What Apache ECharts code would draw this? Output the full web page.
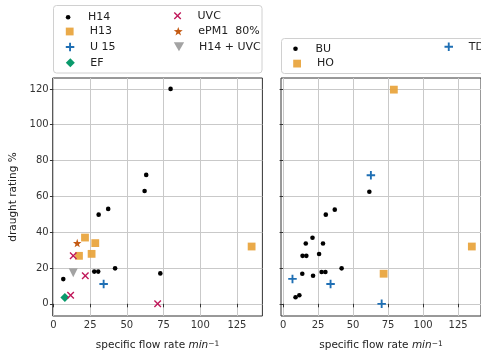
<!DOCTYPE html>
<html>
<head>
<meta charset="utf-8">
<script src="https://cdn.jsdelivr.net/npm/echarts@6/dist/echarts.min.js"></script>
<style>
  html, body { margin: 0; padding: 0; background: #fff; }
  #chart { width: 481px; height: 356px; }
</style>
</head>
<body>
<div id="chart"></div>
<script>
// left panel: filter classes
const h14 = [[6.7, 13.8], [27.8, 18], [30.5, 18], [42, 19.8], [72.8, 17], [79.8, 120], [63.2, 72], [62.1, 63], [37.3, 53], [30.8, 49.8]];
const h13 = [[21.5, 37], [28.5, 33.9], [17.4, 26.8], [26, 27.9], [135, 32]];
const u15 = [[34.2, 11.1]];
const ef = [[7.8, 3.5]];
const uvc = [[13.5, 26.8], [21.7, 15.7], [11.7, 4.8], [71, 0]];
const epm1 = [[16.2, 33.9]];
const h14uvc = [[13.5, 17.4]];

// right panel: installation type
const bu = [[21, 36.9], [16.2, 33.7], [28.5, 33.7], [13.9, 26.8], [16.6, 26.8], [25.7, 27.8], [13.7, 16.8], [21.4, 15.7],
  [27.5, 17.8], [30.2, 17.8], [41.8, 19.8], [8.9, 3.7], [11.6, 4.8], [61.6, 62.6], [36.9, 52.6], [30.5, 49.8]];
const td = [[6.7, 13.9], [33.9, 11.1], [70.4, 0], [62.7, 71.8]];
const ho = [[71.8, 16.8], [79.1, 119.6], [134.8, 32]];

const xTicks = [0, 25, 50, 75, 100, 125];
const yTicks = [0, 20, 40, 60, 80, 100, 120];

const font = 'DejaVu Sans';

const SQUARE = 'path://M0,0H10V10H0Z';
const PLUS = 'path://M3.9,0H6.1V3.9H10V6.1H6.1V10H3.9V6.1H0V3.9H3.9Z';
const DIAMOND = 'path://M5,0L10,5L5,10L0,5Z';
const CROSS = 'path://M0,1.3L1.3,0L5,3.7L8.7,0L10,1.3L6.3,5L10,8.7L8.7,10L5,6.3L1.3,10L0,8.7L3.7,5Z';
const STAR = 'path://M5,0L6.18,3.38L9.76,3.46L6.9,5.62L7.94,9.05L5,7L2.06,9.05L3.1,5.62L0.24,3.46L3.82,3.38Z';
const TRI_DOWN = 'path://M0,0L10,0L5,8.7Z';

// marker style per series name
const markers = {
  'H14': { symbol: 'circle', size: 4.6, color: '#000000' },
  'H13': { symbol: SQUARE, size: 7.8, color: '#e8a33a' },
  'U 15': { symbol: PLUS, size: 8.5, color: '#1f6fb4' },
  'EF': { symbol: DIAMOND, size: 9, color: '#0a9a6c' },
  'UVC': { symbol: CROSS, size: 7.5, color: '#c0185a' },
  'ePM1  80%': { symbol: STAR, size: 8.5, color: '#c45a12' },
  'H14 + UVC': { symbol: TRI_DOWN, size: 9, color: '#a3a3a3' },
  'BU': { symbol: 'circle', size: 4.6, color: '#000000' },
  'TD': { symbol: PLUS, size: 8.5, color: '#1f6fb4' },
  'HO': { symbol: SQUARE, size: 7.8, color: '#e8a33a' }
};

const makeSeries = (name, data, panel) => ({
  name: name,
  type: 'scatter',
  xAxisIndex: panel,
  yAxisIndex: panel,
  data: data,
  symbol: markers[name].symbol,
  symbolSize: markers[name].size,
  itemStyle: { color: markers[name].color, opacity: name === 'H13' || name === 'HO' ? 0.92 : 1 },
  emphasis: { disabled: true }
});

// one legend per entry so each icon keeps its own size
// (the legend box lands ~12.5px left of the given left, so push it back)
const makeLegend = (name, cx, cy) => ({
  data: [name],
  left: cx - 15 + 12.5,
  top: cy - markers[name].size / 2 - 1,
  itemWidth: 30,
  itemHeight: markers[name].size,
  padding: 0,
  selectedMode: false,
  symbolKeepAspect: true,
  textStyle: { fontFamily: font, fontSize: 11, color: '#222' }
});

const legends = [];
[['H14', 'H13', 'U 15', 'EF'], ['UVC', 'ePM1  80%', 'H14 + UVC']].forEach((col, c) => {
  col.forEach((name, r) => legends.push(makeLegend(name, c === 0 ? 68.3 : 176.3, 15 + 15.9 * r)));
});
[['BU', 'HO'], ['TD']].forEach((col, c) => {
  col.forEach((name, r) => legends.push(makeLegend(name, c === 0 ? 295.7 : 447, 46.5 + 16.5 * r)));
});

const tickText = { fontFamily: font, fontSize: 10, color: '#333' };
const nameText = {
  fontFamily: font, fontSize: 10.5, color: '#222',
  rich: {
    i: { fontFamily: font, fontSize: 10.5, fontStyle: 'italic', color: '#222' },
    s: { fontFamily: font, fontSize: 7.5, color: '#222', verticalAlign: 'top', lineHeight: 8 }
  }
};

const makeXAxis = (panel, min) => ({
  type: 'value',
  gridIndex: panel,
  min: min,
  max: min + 142.85,
  minInterval: 25,
  maxInterval: 25,
  name: 'specific flow rate {i|min}{s|−1}',
  nameLocation: 'middle',
  nameGap: 24,
  nameTextStyle: nameText,
  axisLine: { show: false },
  axisTick: { show: true, length: 3.5, lineStyle: { color: '#333' }, customValues: xTicks },
  axisLabel: Object.assign({ margin: 4, customValues: xTicks, formatter: v => (xTicks.includes(v) ? String(v) : '') }, tickText),
  splitLine: { show: true, lineStyle: { color: '#c9c9c9', width: 1 } }
});

const makeYAxis = (panel) => ({
  type: 'value',
  gridIndex: panel,
  min: -6.8,
  max: 126.1,
  minInterval: 20,
  maxInterval: 20,
  name: panel === 0 ? 'draught rating %' : '',
  nameLocation: 'middle',
  nameGap: 34,
  nameTextStyle: nameText,
  axisLine: { show: false },
  axisTick: { show: true, length: 3.5, lineStyle: { color: '#333' }, customValues: yTicks },
  axisLabel: Object.assign({ show: panel === 0, margin: 4, customValues: yTicks, formatter: v => (yTicks.includes(v) ? String(v) : '') }, tickText),
  splitLine: { show: true, lineStyle: { color: '#c9c9c9', width: 1 } }
});

const chart = echarts.init(document.getElementById('chart'), null, { renderer: 'canvas' });

const option = {
  animation: false,
  backgroundColor: '#ffffff',
  graphic: [
    { type: 'rect', shape: { x: 53.5, y: 5.5, width: 208.5, height: 67.5, r: 3 }, style: { fill: '#fff', stroke: '#d0d0d0', lineWidth: 1 }, z: -1 },
    { type: 'rect', shape: { x: 281.5, y: 38.5, width: 220, height: 35, r: 3 }, style: { fill: '#fff', stroke: '#d0d0d0', lineWidth: 1 }, z: -1 }
  ],
  legend: legends,
  grid: [
    { left: 52.7, top: 78, width: 209.7, height: 239.5, show: true, borderColor: '#333', borderWidth: 1, backgroundColor: 'transparent' },
    { left: 281, top: 78, width: 209.7, height: 239.5, show: true, borderColor: '#333', borderWidth: 1, backgroundColor: 'transparent' }
  ],
  xAxis: [makeXAxis(0, -0.5), makeXAxis(1, -1.5)],
  yAxis: [makeYAxis(0), makeYAxis(1)],
  series: [
    makeSeries('H14', h14, 0),
    makeSeries('H13', h13, 0),
    makeSeries('U 15', u15, 0),
    makeSeries('EF', ef, 0),
    makeSeries('UVC', uvc, 0),
    makeSeries('ePM1  80%', epm1, 0),
    makeSeries('H14 + UVC', h14uvc, 0),
    makeSeries('BU', bu, 1),
    makeSeries('TD', td, 1),
    makeSeries('HO', ho, 1)
  ]
};

chart.setOption(option);
</script>
</body>
</html>
